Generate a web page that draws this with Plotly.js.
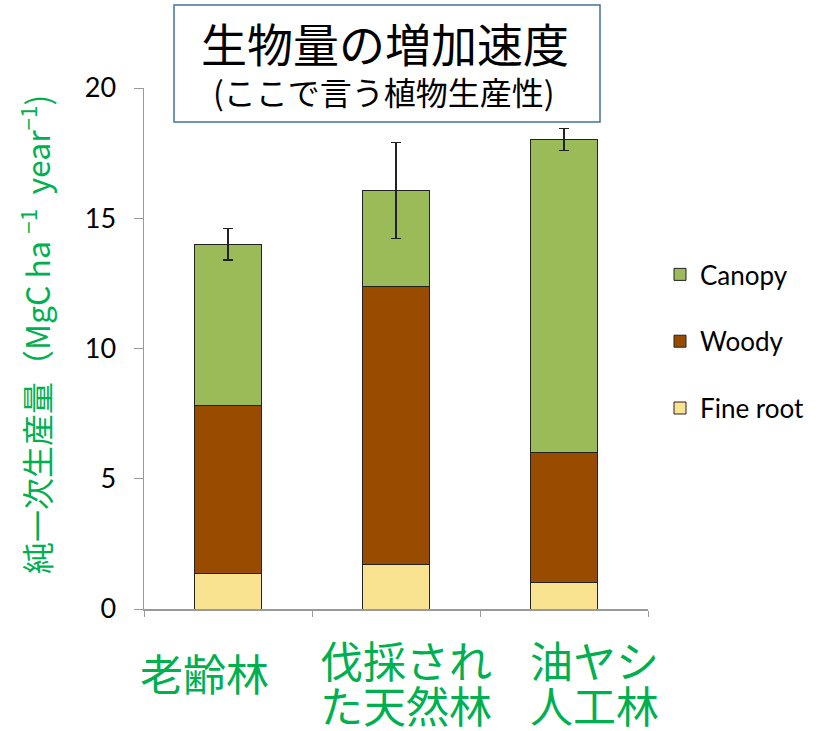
<!DOCTYPE html>
<html>
<head>
<meta charset="utf-8">
<script src="https://cdn.plot.ly/plotly-3.0.1.min.js"></script>
<style>html,body{margin:0;padding:0;background:#fff;}#chart{width:820px;height:731px;}</style>
</head>
<body>
<div id="chart"></div>
<script>
// ---- data ----
const categories = ['老齢林', '伐採された天然林', '油ヤシ人工林'];
const categoryLabels = ['老齢林', '伐採され<br>た天然林', '油ヤシ<br>人工林'];
const fineRoot = [1.37, 1.72, 1.01];
const woody = [6.45, 10.67, 4.99];
const canopy = [6.18, 3.68, 12.03];
const totalError = [0.6, 1.85, 0.43];
const seriesNames = ['Fine root', 'Woody', 'Canopy'];
const yLabel = '純一次生産量（MgC ha <sup>−1</sup>  year<sup>−1</sup>)';

const FONT = 'Lato, "Noto Sans CJK JP", sans-serif';
const JP = '"Noto Sans CJK JP", sans-serif';
const GREEN = '#00B050';

const traces = [
  {type: 'bar', name: seriesNames[0], x: categories, y: fineRoot, legendgroup: 'f', legendrank: 3,
   marker: {color: '#F9E390', line: {color: '#222', width: 1}}},
  {type: 'bar', name: seriesNames[1], x: categories, y: woody, legendgroup: 'w', legendrank: 2,
   marker: {color: '#994C00', line: {color: '#222', width: 1}}},
  {type: 'bar', name: seriesNames[2], x: categories, y: canopy, legendgroup: 'c', legendrank: 1,
   marker: {color: '#9BBB59', line: {color: '#222', width: 1}},
   error_y: {type: 'data', array: totalError, visible: true, color: '#222', thickness: 1.2, width: 5}}
];

// category labels as annotations (one per line), offsets as in the reference
const xShift = [-24, 10, 30];
const annotations = [];
categories.forEach((c, i) => {
  const lines = categoryLabels[i].split('<br>');
  const yCenters = lines.length === 1 ? [672] : [659, 704];
  lines.forEach((ln, k) => {
    annotations.push({
      x: c, xref: 'x', xshift: xShift[i],
      y: (609 - yCenters[k]) / 521, yref: 'paper', yanchor: 'middle',
      showarrow: false, text: ln, font: {family: JP, size: 43, color: GREEN}
    });
  });
});
annotations.push({
  xref: 'paper', yref: 'paper', x: (385 - 144) / 504, y: (609 - 42) / 521,
  xanchor: 'center', yanchor: 'middle', showarrow: false,
  text: '生物量の増加速度', font: {family: JP, size: 46, color: '#000'}
});
annotations.push({
  xref: 'paper', yref: 'paper', x: (384 - 144) / 504, y: (609 - 91) / 521,
  xanchor: 'center', yanchor: 'middle', showarrow: false,
  text: '(ここで言う植物生産性)', font: {family: JP, size: 32, color: '#000'}
});
// y-axis label
annotations.push({
  xref: 'paper', yref: 'paper', x: (35 - 144) / 504, y: (609 - 335) / 521,
  xanchor: 'center', yanchor: 'middle', textangle: -90, showarrow: false,
  text: yLabel, font: {family: JP, size: 32, color: GREEN}
});

const layout = {
  width: 820, height: 731,
  margin: {l: 144, r: 172, t: 88, b: 122},
  paper_bgcolor: '#fff', plot_bgcolor: '#fff',
  barmode: 'stack', bargap: 0.6,
  font: {family: FONT, color: '#000'},
  showlegend: true,
  legend: {xref: 'container', yref: 'container', x: 660 / 820, xanchor: 'left',
           y: 1 - 251 / 731, yanchor: 'top',
           traceorder: 'grouped', tracegroupgap: 30,
           font: {family: FONT, size: 26, color: '#000'}, bgcolor: 'rgba(0,0,0,0)'},
  xaxis: {type: 'category', range: [-0.5, 2.5], showline: true, linecolor: '#999', linewidth: 1.5,
          ticks: 'outside', tickson: 'boundaries', ticklen: 6, tickcolor: '#999',
          showticklabels: false, showgrid: false, zeroline: false, fixedrange: true},
  yaxis: {range: [0, 20], dtick: 5, showline: true, linecolor: '#999', linewidth: 1.5,
          ticks: 'outside', ticklen: 9, tickcolor: '#999', showgrid: false, zeroline: false,
          ticklabelstandoff: 12,
          tickfont: {family: FONT, size: 27, color: '#000'},
          automargin: false},
  shapes: [{type: 'rect', xref: 'paper', yref: 'paper',
            x0: (174 - 144) / 504, x1: (600 - 144) / 504,
            y0: (609 - 122) / 521, y1: (609 - 5) / 521,
            line: {color: '#41719C', width: 1.5}, fillcolor: 'rgba(0,0,0,0)'}],
  annotations: annotations
};

Plotly.newPlot('chart', traces, layout, {displayModeBar: false, staticPlot: true});
</script>
</body>
</html>
